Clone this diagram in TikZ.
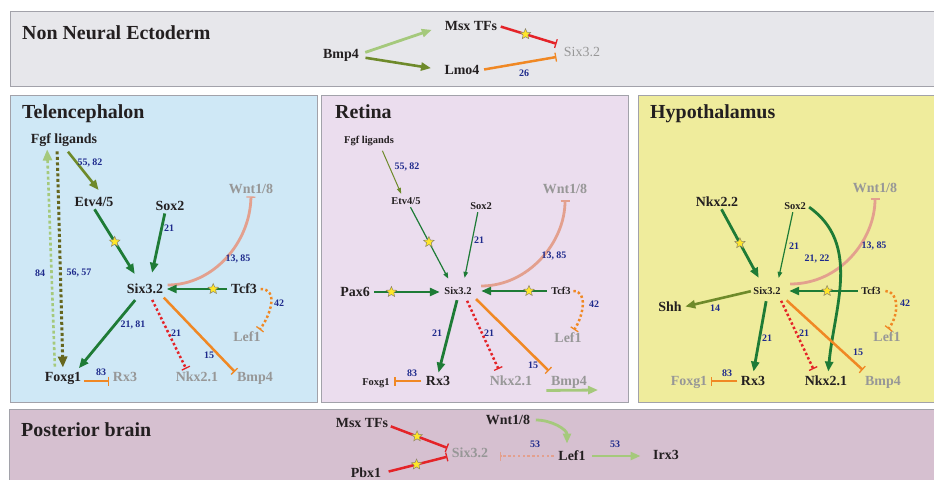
\documentclass[tikz,border=0pt]{standalone}
\usepackage{fontspec}
\setmainfont{Liberation Serif}
\usetikzlibrary{arrows.meta,shapes.geometric,calc}

\definecolor{ink}{HTML}{231F20}
\definecolor{dimtext}{HTML}{979797}
\definecolor{numblue}{HTML}{1E2A8C}
\definecolor{dgreen}{HTML}{1E7B36}
\definecolor{olivegr}{HTML}{6E8A2A}
\definecolor{lgreen}{HTML}{A5C97C}
\definecolor{darkolive}{HTML}{66661E}
\definecolor{rred}{HTML}{E42328}
\definecolor{orng}{HTML}{F08824}
\definecolor{salmon}{HTML}{E3A08E}
\definecolor{starfill}{HTML}{FFE629}
\definecolor{starline}{HTML}{8C8468}
\definecolor{panelline}{HTML}{A2A2AA}
\definecolor{fillTop}{HTML}{E7E7EB}
\definecolor{fillTel}{HTML}{CFE8F6}
\definecolor{fillRet}{HTML}{EBDDEE}
\definecolor{fillHyp}{HTML}{EFEC9C}
\definecolor{fillPost}{HTML}{D6C0D0}

\begin{document}
\begin{tikzpicture}[x=1bp,y=-1bp,
  panel/.style={draw=panelline, line width=1bp},
  title/.style={anchor=west, inner sep=0pt, text=ink, text height=13.6bp, text depth=0pt,
    font=\bfseries\fontsize{20}{24}\selectfont},
  big/.style={inner sep=1.5bp, text=ink, text height=9.5bp, text depth=0pt,
    font=\bfseries\fontsize{14}{16}\selectfont},
  small/.style={big, text height=7.14bp, font=\bfseries\fontsize{10.5}{12}\selectfont},
  lite/.style={big, font=\fontsize{14}{16}\selectfont},
  dim/.style={text=dimtext},
  num/.style={inner sep=0pt, text=numblue, font=\bfseries\fontsize{10}{12}\selectfont},
  starmark/.style={star, star points=5, star point ratio=2.2, minimum size=11bp,
    inner sep=0pt, fill=starfill, draw=starline, line width=0.5bp},
  act/.style={draw=dgreen, line width=2.8bp, -{Triangle[length=10bp,width=8bp]}},
  actthin/.style={draw=dgreen, line width=1.2bp, -{Triangle[length=6bp,width=4.5bp]}},
  olv/.style={draw=olivegr, line width=2.6bp, -{Triangle[length=10bp,width=8bp]}},
  olvthin/.style={draw=olivegr, line width=1bp, -{Triangle[length=6bp,width=4bp]}},
  lgr/.style={draw=lgreen, line width=2.8bp, -{Triangle[length=10bp,width=8bp]}},
  inhO/.style={draw=orng, line width=2.5bp, -{Bar[width=9bp,line width=1.3bp]}},
  inhR/.style={draw=rred, line width=2.5bp, -{Bar[width=9bp,line width=1.3bp]}},
  inhS/.style={draw=salmon, line width=2.8bp, -{Bar[width=9bp,line width=1.3bp]}},
  dots/.style={dash pattern=on 2.4bp off 2.4bp},
  dotolv/.style={draw=darkolive, line width=3bp, dash pattern=on 3bp off 2.5bp,
    -{Triangle[length=11bp,width=9bp]}},
  dotlg/.style={draw=lgreen, line width=2.6bp, dash pattern=on 3bp off 2.5bp,
    -{Triangle[length=11bp,width=9bp]}}
]
\useasboundingbox (0,0) rectangle (934,480);
\fill[white] (0,0) rectangle (934,480);

% ---------- panels ----------
\draw[panel, fill=fillTop]  (10,12)  rectangle (940,87);
\draw[panel, fill=fillTel]  (10,96)  rectangle (317,402);
\draw[panel, fill=fillRet]  (321,96) rectangle (628,402);
\draw[panel, fill=fillHyp]  (638,96) rectangle (940,402);
\draw[panel, fill=fillPost] (9,409)  rectangle (940,490);

\node[title] (titleTop)  at (22,33)   {Non Neural Ectoderm};
\node[title] (titleTel)  at (22,112)  {Telencephalon};
\node[title] (titleRet)  at (335,112) {Retina};
\node[title] (titleHyp)  at (650,112) {Hypothalamus};
\node[title] (titlePost) at (21,430)  {Posterior brain};

% ---------- non neural ectoderm ----------
\node[big] (topBmp) at (341,54) {Bmp4};
\node[big] (topMsx) at (471,26) {Msx TFs};
\node[big] (topLmo) at (462,70) {Lmo4};
\node[lite,dim] (topSix) at (582,52) {Six3.2};
\draw[lgr, shorten <=5bp, shorten >=12bp] (topBmp.east) -- (topMsx.west);
\draw[olv, shorten <=5bp, shorten >=12bp] ([yshift=-3bp]topBmp.east) -- (topLmo.west);
\draw[inhR, shorten <=2bp, shorten >=6bp] (topMsx.east) -- (topSix.north west)
  node[starmark, pos=.42] (topStar) {};
\draw[inhO, shorten <=3bp, shorten >=6bp] (topLmo.east) -- ([yshift=-4bp]topSix.west);
\node[num] (n26) at (524,73) {26};

% ---------- telencephalon ----------
\node[big] (tFgf) at (64,139) {Fgf ligands};
\node[big] (tEtv) at (94,202) {Etv4/5};
\node[big] (tSox) at (170,206) {Sox2};
\node[big,dim] (tWnt) at (251,189) {Wnt1/8};
\node[big] (tSix) at (145,289) {Six3.2};
\node[big] (tTcf) at (244,289) {Tcf3};
\node[big,dim] (tLef) at (247,337) {Lef1};
\node[big] (tFox) at (63,377) {Foxg1};
\node[big,dim] (tRx) at (125,377) {Rx3};
\node[big,dim] (tNkx) at (197,377) {Nkx2.1};
\node[big,dim] (tBmp) at (255,377) {Bmp4};

\draw[olv, shorten <=8bp, shorten >=7bp] ([xshift=-1bp]tFgf.south) -- ([xshift=9bp]tEtv.north);
\draw[act, shorten <=1bp, shorten >=10bp] (tEtv.south) -- ([xshift=-5bp]tSix.north)
  node[starmark, pos=.45] (tStarA) {};
\draw[act, shorten <=1bp, shorten >=10bp] ([xshift=-5bp]tSox.south) -- ([xshift=5bp]tSix.north);
\draw[inhS, shorten <=3bp, shorten >=1bp] ([yshift=4bp]tSix.east)
  .. controls +(48,0) and +(-1,48) .. (tWnt.south);
\draw[act, shorten <=2bp, shorten >=2bp] (tTcf.west) -- (tSix.east)
  node[starmark, pos=.25] (tStarB) {};
\draw[inhO, dots, shorten <=2bp, shorten >=1bp] (tTcf.east)
  .. controls +(20,0) and +(12,-16) .. ([xshift=12bp]tLef.north);
\draw[act, shorten <=6bp, shorten >=3bp] ([xshift=-6bp]tSix.south) -- ([xshift=-6bp]tFox.north east);
\draw[inhR, dots, shorten <=5bp, shorten >=2bp] ([xshift=5bp]tSix.south) -- ([xshift=-10bp]tNkx.north);
\draw[inhO, shorten <=3bp, shorten >=1bp] ([xshift=-3bp]tSix.south east) -- ([yshift=-2bp]tBmp.north west);
\draw[inhO, shorten <=1bp, shorten >=2bp] ([yshift=-4bp]tFox.east) -- ([yshift=-4bp]tRx.west);
\draw[dotolv, shorten <=6bp, shorten >=3bp] ([xshift=-7bp]tFgf.south) -- (tFox.north);
\draw[dotlg, shorten <=4bp, shorten >=4bp] ([xshift=-8bp]tFox.north) -- ([xshift=-17bp]tFgf.south);

\node[num] (tl1) at (90,163)  {55, 82};
\node[num] (tl2) at (169,228) {21};
\node[num] (tl3) at (238,259) {13, 85};
\node[num] (tl4) at (279,303) {42};
\node[num] (tl5) at (133,325) {21, 81};
\node[num] (tl6) at (176,333) {21};
\node[num] (tl7) at (209,355) {15};
\node[num] (tl8) at (101,372) {83};
\node[num] (tl9) at (79,273)  {56, 57};
\node[num] (tl10) at (40,273) {84};

% ---------- retina ----------
\node[small] (rFgf) at (369,140) {Fgf ligands};
\node[small] (rEtv) at (406,201) {Etv4/5};
\node[small] (rSox) at (481,206) {Sox2};
\node[big,dim] (rWnt) at (565,189) {Wnt1/8};
\node[big] (rPax) at (355,292) {Pax6};
\node[small] (rSix) at (458,291) {Six3.2};
\node[small] (rTcf) at (561,291) {Tcf3};
\node[big,dim] (rLef) at (568,338) {Lef1};
\node[big] (rRx) at (438,381) {Rx3};
\node[small] (rFox) at (376,382) {Foxg1};
\node[big,dim] (rNkx) at (511,381) {Nkx2.1};
\node[big,dim] (rBmp) at (569,381) {Bmp4};
\coordinate (rBmpOut) at (598,390);

\draw[olvthin, shorten <=6bp, shorten >=2bp] ([xshift=11bp]rFgf.south) -- ([xshift=-4bp]rEtv.north);
\draw[actthin, shorten <=1bp, shorten >=8bp] ([xshift=4bp]rEtv.south) -- ([xshift=-6bp]rSix.north)
  node[starmark, pos=.45] (rStarA) {};
\draw[actthin, shorten <=1bp, shorten >=8bp] ([xshift=-3bp]rSox.south) -- ([xshift=5bp]rSix.north);
\draw[inhS, shorten >=5bp] ([xshift=8bp,yshift=5bp]rSix.east)
  .. controls +(47,0) and +(0,47) .. (rWnt.south);
\draw[act, shorten <=3bp, shorten >=3bp] (rPax.east) -- (rPax.east -| rSix.west)
  node[starmark, pos=.28] (rStarB) {};
\draw[act, shorten <=3bp, shorten >=8bp] (rTcf.west) -- (rSix.east)
  node[starmark, pos=.27] (rStarC) {};
\draw[inhO, dots, shorten <=1bp, shorten >=2bp] (rTcf.east)
  .. controls +(16,0) and +(10,-15) .. ([xshift=5bp]rLef.north);
\draw[act, shorten <=4bp, shorten >=2bp] (rSix.south) -- (rRx.north);
\draw[inhR, dots, shorten <=5bp, shorten >=6bp] ([xshift=7bp]rSix.south) -- ([xshift=-10bp]rNkx.north);
\draw[inhO, shorten <=4bp, shorten >=1bp] (rSix.south east) -- ([yshift=3bp]rBmp.north west);
\draw[inhO, shorten <=3bp, shorten >=3bp] (rRx.west) -- (rRx.west -| rFox.east);
\draw[lgr, shorten <=-3bp] ([yshift=-3bp]rBmp.south west) -- (rBmpOut);

\node[num] (rl1) at (407,167) {55, 82};
\node[num] (rl2) at (479,240) {21};
\node[num] (rl3) at (554,256) {13, 85};
\node[num] (rl4) at (594,304) {42};
\node[num] (rl5) at (437,333) {21};
\node[num] (rl6) at (489,333) {21};
\node[num] (rl7) at (533,365) {15};
\node[num] (rl8) at (412,373) {83};

% ---------- hypothalamus ----------
\node[big] (hNkxB) at (717,202) {Nkx2.2};
\node[small] (hSox) at (795,206) {Sox2};
\node[big,dim] (hWnt) at (875,188) {Wnt1/8};
\node[small] (hSix) at (767,291) {Six3.2};
\node[small] (hTcf) at (871,291) {Tcf3};
\node[big] (hShh) at (670,307) {Shh};
\node[big,dim] (hLef) at (887,337) {Lef1};
\node[big,dim] (hFox) at (689,381) {Foxg1};
\node[big] (hRx) at (753,381) {Rx3};
\node[big] (hNkx) at (826,381) {Nkx2.1};
\node[big,dim] (hBmp) at (883,381) {Bmp4};

\draw[act, shorten <=1bp, shorten >=9bp] ([xshift=4bp]hNkxB.south) -- ([xshift=-4bp]hSix.north)
  node[starmark, pos=.45] (hStarA) {};
\draw[actthin, shorten <=1bp, shorten >=8bp] ([xshift=-2bp]hSox.south) -- ([xshift=10bp]hSix.north);
\draw[inhS, shorten >=4bp] ([xshift=8bp,yshift=7bp]hSix.east)
  .. controls +(50,0) and +(0,45) .. (hWnt.south);
\draw[act, shorten <=2bp, shorten >=3bp] (hSox.east)
  .. controls +(54,38) and +(6,-66) .. ([xshift=2bp]hNkx.north);
\draw[act, shorten <=2bp, shorten >=7bp] (hTcf.west) -- (hSix.east)
  node[starmark, pos=.42] (hStarB) {};
\draw[inhO, dots, shorten <=3bp, shorten >=2bp] (hTcf.east)
  .. controls +(17,0) and +(12,-15) .. (hLef.north);
\draw[olv, shorten <=1bp, shorten >=2bp] (hSix.west) -- (hShh.east);
\draw[act, shorten <=5bp, shorten >=3bp] (hSix.south) -- (hRx.north);
\draw[inhR, dots, shorten <=5bp, shorten >=6bp] ([xshift=12bp]hSix.south) -- ([xshift=-10bp]hNkx.north);
\draw[inhO, shorten <=6bp, shorten >=1bp] (hSix.south east) -- ([yshift=4bp]hBmp.north west);
\draw[inhO, shorten <=2bp, shorten >=2bp] (hRx.west) -- (hRx.west -| hFox.east);

\node[num] (hl1) at (794,246) {21};
\node[num] (hl2) at (817,259) {21, 22};
\node[num] (hl3) at (874,246) {13, 85};
\node[num] (hl4) at (905,303) {42};
\node[num] (hl5) at (715,308) {14};
\node[num] (hl6) at (767,338) {21};
\node[num] (hl7) at (804,333) {21};
\node[num] (hl8) at (858,352) {15};
\node[num] (hl9) at (727,373) {83};

% ---------- posterior brain ----------
\node[big] (pMsx) at (362,423) {Msx TFs};
\node[big] (pPbx) at (366,473) {Pbx1};
\node[big,dim] (pSix) at (470,453) {Six3.2};
\node[big] (pWnt) at (508,420) {Wnt1/8};
\node[big] (pLef) at (572,456) {Lef1};
\node[big] (pIrx) at (666,455) {Irx3};

\draw[inhR, shorten <=1bp, shorten >=3bp] ([yshift=-3bp]pMsx.east) -- ([yshift=4bp]pSix.west)
  node[starmark, pos=.45] (pStarA) {};
\draw[inhR, shorten <=6bp, shorten >=3bp] (pPbx.east) -- ([yshift=-3bp]pSix.west)
  node[starmark, pos=.5] (pStarB) {};
\draw[inhS, dots, line width=2bp, shorten <=3bp, shorten >=10bp] (pLef.west) -- (pLef.west -| pSix.east);
\draw[lgr, shorten <=4bp, shorten >=6bp] (pWnt.east)
  .. controls +(20,0) and +(0,-20) .. ([xshift=-5bp]pLef.north);
\draw[lgr, shorten <=5bp, shorten >=11bp] (pLef.east) -- (pLef.east -| pIrx.west);

\node[num] (pl1) at (535,444) {53};
\node[num] (pl2) at (615,444) {53};
\end{tikzpicture}
\end{document}
